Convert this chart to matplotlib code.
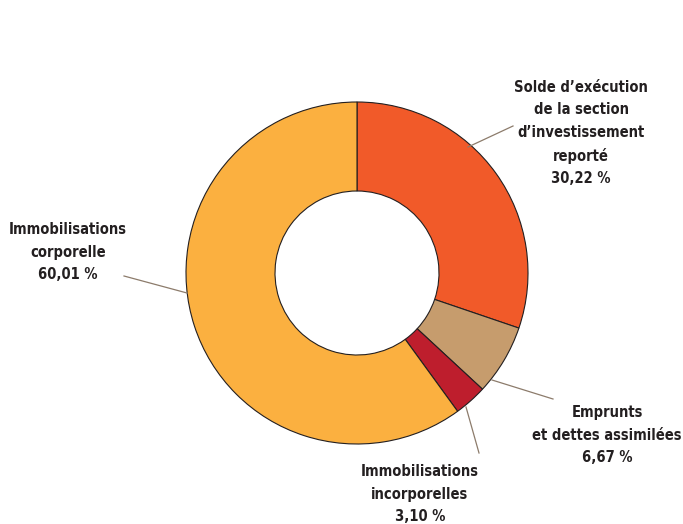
import matplotlib.pyplot as plt
from matplotlib import font_manager

# Données
labels = ["Solde d\u2019exécution\nde la section\nd\u2019investissement\nreporté",
          "Emprunts\net dettes assimilées",
          "Immobilisations\nincorporelles",
          "Immobilisations\ncorporelle"]
valeurs = [30.22, 6.67, 3.10, 60.01]
couleurs = ["#F15A29", "#C69C6D", "#BE1E2D", "#FBB040"]

# chercher une police étroite (condensed / narrow)
fp = font_manager.FontProperties(family="Liberation Sans", weight="bold", size=10.5)
for f in font_manager.fontManager.ttflist:
    st = str(f.stretch).lower()
    if ("condensed" in st or "narrow" in f.name.lower()
            or "condensed" in f.name.lower()) and str(f.weight) in ("700", "bold"):
        fp = font_manager.FontProperties(fname=f.fname, size=10.5)
        break

fig = plt.figure(figsize=(6.83, 5.24), dpi=100)
ax = fig.add_axes([0, 0, 1, 1])

H = 524
ax.pie(valeurs, colors=couleurs, startangle=90, counterclock=False,
       center=(357, H - 273), radius=171,
       wedgeprops=dict(width=89, edgecolor="#231F20", linewidth=0.8))

# pie() remet les limites, donc on les fixe après
ax.set_xlim(0, 683)
ax.set_ylim(0, 524)
ax.set_aspect("equal")
ax.axis("off")

# positions des étiquettes (pixels) et traits de rappel
pos_txt = [(581, 133), (607, 435), (420, 494), (68, 252)]
traits = [((468, 147), (513, 126)), ((492, 380), (553, 399)),
          ((466, 407), (479, 453)), ((187, 293), (124, 276))]

for lab, v, (x, y), (p1, p2) in zip(labels, valeurs, pos_txt, traits):
    txt = lab + "\n" + f"{v:.2f}".replace(".", ",") + " %"
    ax.text(x, H - y, txt, ha="center", va="center", fontproperties=fp,
            color="#231F20", linespacing=1.6)
    ax.plot([p1[0], p2[0]], [H - p1[1], H - p2[1]], color="#8C7B6B", lw=0.9)

plt.savefig("out.png", dpi=100)
